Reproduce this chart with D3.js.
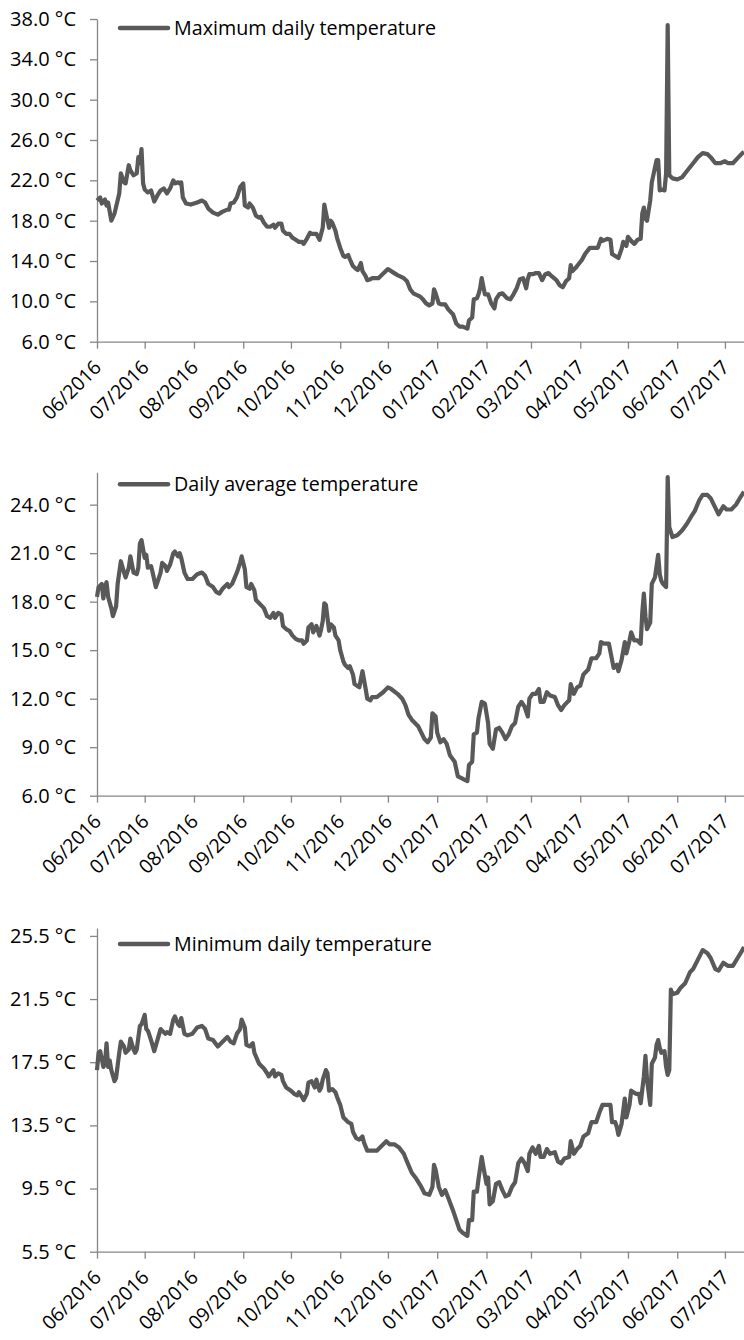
<!DOCTYPE html>
<html>
<head>
<meta charset="utf-8">
<script src="https://cdn.jsdelivr.net/npm/d3@7"></script>
<style>
body { margin: 0; background: #fff; }
text { font-family: "Open Sans", sans-serif; fill: #000; }
</style>
</head>
<body>
<script>
// days are counted from 1 June 2016
var maxDays = [0,2,3,5,6,7,9,11,14,15,17,18,20,21,23,25,26,27,28,29,30,32,34,36,38,40,42,44,46,48,49,51,52,53,54,56,59,63,66,68,70,73,76,79,82,83,84,86,88,90,92,93,95,96,98,100,102,103,105,107,109,111,112,114,116,117,119,121,123,125,127,129,130,132,134,135,137,138,140,141,142,143,144,146,147,148,150,151,153,155,156,158,159,161,163,164,166,167,169,170,172,
  173,177,183,186,189,193,195,197,199,203,205,207,209,211,212,213,215,217,219,221,224,226,228,230,233,234,236,237,239,240,241,242,244,246,248,250,251,253,255,258,260,262,264,266,268,270,271,272,274,276,278,280,282,284,286,289,291,293,295,297,298,299,301,303,305,307,310,313,315,317,318,321,323,324,326,328,330,331,333,334,336,338,340,342,343,344,345,346,348,349,352,353,354,355,357,358,359,360,362,365,368,370,373,375,378,381,384,386,389,392,395,397,400,403,406,407];
var maxTemps = [20.0,20.3,19.7,20.1,19.5,19.8,18.0,18.7,20.7,22.7,21.8,21.7,23.5,23.0,22.5,22.7,24.3,23.7,25.1,21.7,21.1,20.8,21.0,19.9,20.5,21.0,21.2,20.7,21.2,22.0,21.7,21.8,21.7,21.8,20.3,19.7,19.6,19.8,20.0,19.8,19.2,18.8,18.6,18.9,19.1,19.1,19.7,19.8,20.3,21.3,21.7,19.5,19.3,19.7,19.3,18.5,18.3,18.4,17.8,17.4,17.4,17.6,17.3,17.7,17.7,17.0,16.7,16.7,16.3,16.1,15.9,15.9,15.7,16.2,16.8,16.7,16.7,16.7,16.1,16.7,17.3,19.6,18.8,17.3,18.0,17.8,17.0,16.3,15.3,14.5,14.4,14.6,14.2,13.5,13.2,13.1,13.8,13.0,12.5,12.1,12.2,
  12.3,12.3,13.2,12.9,12.6,12.3,12.0,11.2,10.8,10.5,10.2,9.8,9.6,9.8,11.2,10.8,9.8,9.7,9.7,9.2,8.7,7.8,7.5,7.5,7.3,8.1,8.4,10.2,10.3,10.7,11.3,12.3,10.7,10.7,9.8,9.3,10.2,10.7,10.8,10.3,10.2,10.7,11.3,12.2,12.3,11.3,12.2,12.7,12.7,12.8,12.8,12.1,12.7,12.8,12.5,12.1,11.6,11.4,12.0,12.3,13.6,13.0,13.3,13.7,14.1,14.7,15.3,15.3,15.3,16.2,16.0,16.2,16.1,14.7,14.5,14.3,15.2,15.9,15.5,16.4,16.0,15.7,16.1,16.2,18.7,19.3,18.2,18.0,20.0,21.8,24.0,24.0,21.0,21.1,21.0,22.7,37.4,22.5,22.2,22.1,22.3,22.7,23.3,23.7,24.3,24.7,24.6,24.3,23.7,23.7,23.9,23.7,23.7,24.2,24.7,24.8];

var avgDays = [0,1,3,4,5,6,7,9,10,12,13,15,17,18,20,21,23,25,26,27,28,30,31,32,34,35,37,38,40,41,43,44,46,48,49,51,52,53,55,57,60,63,66,68,70,73,75,77,79,82,83,85,88,90,91,93,94,96,97,99,100,102,105,107,109,111,112,114,116,117,119,121,123,125,127,129,130,132,133,135,136,138,140,141,142,143,144,146,147,149,150,152,153,155,156,158,159,161,162,165,166,167,169,170,172,
  173,176,180,183,185,189,192,194,196,198,202,204,206,208,210,211,213,214,216,218,220,222,225,227,229,231,233,234,236,237,239,240,242,244,246,247,249,251,253,255,257,259,261,263,265,267,269,271,272,274,276,278,279,281,283,285,288,290,292,294,297,298,300,302,304,306,309,311,314,316,317,319,322,324,325,327,328,330,332,333,335,336,338,340,342,343,344,345,346,348,349,351,352,353,354,355,356,358,359,360,362,365,368,371,374,376,379,381,384,386,389,391,394,396,399,402,405,407];
var avgTemps = [18.3,18.9,19.1,18.2,18.9,19.2,18.3,17.6,17.1,17.7,19.1,20.5,19.8,19.5,20.1,20.8,19.8,19.7,20.1,21.6,21.8,20.7,20.9,20.1,20.2,19.8,18.9,19.2,19.8,20.4,20.2,19.9,20.3,21.0,21.1,20.8,21.0,20.7,19.8,19.4,19.4,19.7,19.8,19.6,19.1,18.9,18.6,18.5,18.8,19.1,18.9,19.1,19.8,20.4,20.8,20.0,18.9,18.8,19.1,18.7,18.1,17.9,17.6,17.1,17.0,17.3,17.0,17.3,17.2,16.5,16.3,16.2,15.9,15.7,15.6,15.6,15.4,15.6,16.4,16.6,16.1,16.5,15.9,16.3,16.8,17.9,17.8,16.2,16.6,16.4,15.9,15.6,15.0,14.3,14.1,13.9,14.0,13.5,12.9,12.7,13.2,13.7,12.6,12.0,11.9,
  12.1,12.1,12.4,12.7,12.6,12.3,12.0,11.6,11.0,10.7,10.3,9.9,9.5,9.3,9.6,11.1,10.9,9.9,9.3,9.5,9.2,8.5,8.1,7.2,7.1,7.0,6.9,7.9,8.1,9.8,9.9,10.8,11.8,11.7,10.5,9.2,8.9,10.1,10.2,9.9,9.5,9.8,10.3,10.5,11.5,11.8,11.5,10.9,12.0,12.3,12.3,12.6,11.8,11.8,12.4,12.2,12.1,11.6,11.3,11.6,11.9,12.9,12.3,12.7,12.8,13.5,13.8,14.5,14.5,14.8,15.5,15.4,15.4,14.4,13.9,14.1,13.7,14.4,15.5,14.8,15.6,16.1,15.6,15.6,15.4,17.3,18.5,17.1,16.3,16.7,19.1,19.5,20.2,20.9,19.7,19.3,19.1,18.9,25.7,22.6,22.0,22.1,22.4,22.8,23.3,23.6,24.3,24.6,24.6,24.4,23.8,23.4,23.9,23.7,23.7,24.0,24.5,24.8];

var minDays = [0,1,2,4,5,6,7,8,9,11,12,14,15,17,18,20,21,23,24,25,27,28,30,31,32,34,36,38,40,41,43,44,46,48,49,51,52,53,55,57,60,63,66,68,70,73,76,79,82,84,86,88,90,91,93,94,96,98,99,102,105,107,108,111,112,114,116,117,119,122,124,126,127,129,130,132,133,135,137,138,140,141,142,144,145,146,148,150,151,153,155,156,158,160,161,163,165,167,168,170,172,
  173,176,179,182,184,187,190,193,195,198,201,204,206,209,211,212,213,215,217,219,221,224,226,228,230,233,234,236,237,239,240,242,243,245,246,247,249,251,253,255,257,259,261,263,265,267,269,271,272,274,276,278,279,281,283,285,288,290,292,294,297,298,300,302,304,306,309,311,314,316,318,320,323,324,326,327,328,330,332,333,335,336,339,341,342,344,345,346,348,349,351,352,353,354,355,357,358,359,360,361,362,365,367,370,373,375,378,381,384,386,389,391,394,397,400,403,406,407];
var minTemps = [17.0,18.1,18.2,17.2,17.4,18.7,17.2,17.6,17.0,16.3,16.5,18.1,18.8,18.5,18.1,18.3,19.0,18.3,18.1,18.3,19.8,19.9,20.5,19.6,19.5,18.9,18.2,18.9,19.6,19.5,19.3,19.4,19.3,20.2,20.4,19.9,19.8,20.3,19.3,19.2,19.3,19.7,19.8,19.6,19.0,18.9,18.5,18.8,19.1,18.8,18.7,19.3,19.6,20.2,19.7,18.6,18.5,18.7,18.1,17.4,17.1,16.8,16.6,17.0,16.6,16.8,16.7,16.3,15.9,15.7,15.5,15.4,15.6,15.3,15.1,15.5,16.2,16.3,15.9,16.4,15.7,15.9,16.4,17.0,16.8,15.7,15.8,15.6,15.3,14.8,14.0,13.9,13.7,13.6,13.1,12.7,12.6,12.8,12.4,11.9,11.9,
  11.9,11.9,12.2,12.5,12.3,12.3,12.1,11.7,11.2,10.5,10.1,9.6,9.2,9.1,9.6,11.0,10.7,9.6,9.1,9.4,8.9,8.1,7.5,6.9,6.7,6.5,7.5,7.5,9.3,9.3,10.1,11.5,10.9,9.8,10.2,8.5,8.7,9.8,9.9,9.4,9.0,9.1,9.6,9.9,11.1,11.4,11.1,10.6,11.7,12.1,11.7,12.2,11.5,11.5,12.0,11.7,11.8,11.2,11.1,11.4,11.5,12.5,11.7,12.0,12.2,12.8,13.0,13.7,13.7,14.3,14.8,14.8,14.8,13.7,13.7,13.4,12.9,13.6,15.2,14.0,14.8,15.7,15.5,15.5,14.9,16.6,17.9,16.4,14.8,17.4,17.8,18.6,18.9,18.4,18.1,18.2,17.2,16.7,17.0,22.1,21.8,21.9,22.2,22.5,23.2,23.4,24.0,24.6,24.4,24.1,23.4,23.3,23.8,23.6,23.6,24.1,24.6,24.8];

var maxTicks = [6, 10, 14, 18, 22, 26, 30, 34, 38];
var avgTicks = [6, 9, 12, 15, 18, 21, 24];
var minTicks = [5.5, 9.5, 13.5, 17.5, 21.5, 25.5];
var seriesNames = ["Maximum daily temperature", "Daily average temperature", "Minimum daily temperature"];

var startDate = new Date(2016, 5, 1);
var endDate = new Date(2017, 6, 13);
var lineColor = "#595959";
var axisColor = "#868686";

var svg = d3.select("body").append("svg")
    .attr("width", 744)
    .attr("height", 1340);

var x = d3.scaleTime()
    .domain([startDate, endDate])
    .range([97, 744]);

var panels = [
  {days: maxDays, temps: maxTemps, ticks: maxTicks, name: seriesNames[0], domain: [6, 38], top: 19, bottom: 341.7, legendY: 28},
  {days: avgDays, temps: avgTemps, ticks: avgTicks, name: seriesNames[1], domain: [6, 26], top: 472.3, bottom: 795.7, legendY: 484.3},
  {days: minDays, temps: minTemps, ticks: minTicks, name: seriesNames[2], domain: [5.5, 26], top: 928, bottom: 1251.7, legendY: 944}
];

panels.forEach(function(p) {
  var y = d3.scaleLinear().domain(p.domain).range([p.bottom, p.top]);

  var data = p.days.map(function(d, i) {
    return {date: d3.timeDay.offset(startDate, d), temp: p.temps[i]};
  });

  // y axis
  var yAxis = d3.axisLeft(y)
      .tickValues(p.ticks)
      .tickSize(7)
      .tickSizeOuter(0)
      .tickPadding(14)
      .tickFormat(function(d) { return d.toFixed(1) + " \u00b0C"; });

  var yg = svg.append("g").attr("transform", "translate(97,0)").call(yAxis);
  yg.selectAll("path, line").attr("stroke", axisColor).attr("stroke-width", 1.3);
  yg.selectAll("text").attr("font-size", 20).attr("fill", "#000").style("font-family", "'Open Sans', sans-serif");

  // x axis
  var xAxis = d3.axisBottom(x)
      .ticks(d3.timeMonth.every(1))
      .tickSize(7)
      .tickSizeOuter(0)
      .tickFormat(d3.timeFormat("%m/%Y"));

  var xg = svg.append("g").attr("transform", "translate(0," + p.bottom + ")").call(xAxis);
  xg.selectAll("path, line").attr("stroke", axisColor).attr("stroke-width", 1.3);
  xg.selectAll("text")
      .attr("font-size", 19.5)
      .attr("fill", "#000")
      .style("font-family", "'Open Sans', sans-serif")
      .attr("text-anchor", "end")
      .attr("x", 0).attr("y", 0).attr("dy", 0)
      .attr("transform", "translate(5,27) rotate(-45)");

  // the line
  var line = d3.line()
      .x(function(d) { return x(d.date); })
      .y(function(d) { return y(d.temp); });

  svg.append("path")
      .datum(data)
      .attr("d", line)
      .attr("fill", "none")
      .attr("stroke", lineColor)
      .attr("stroke-width", 4.2)
      .attr("stroke-linejoin", "round");

  // legend
  svg.append("line")
      .attr("x1", 120).attr("x2", 168)
      .attr("y1", p.legendY).attr("y2", p.legendY)
      .attr("stroke", lineColor)
      .attr("stroke-width", 4.5)
      .attr("stroke-linecap", "round");

  svg.append("text")
      .attr("x", 174)
      .attr("y", p.legendY + 7)
      .attr("font-size", 19.7)
      .text(p.name);
});
</script>
</body>
</html>
